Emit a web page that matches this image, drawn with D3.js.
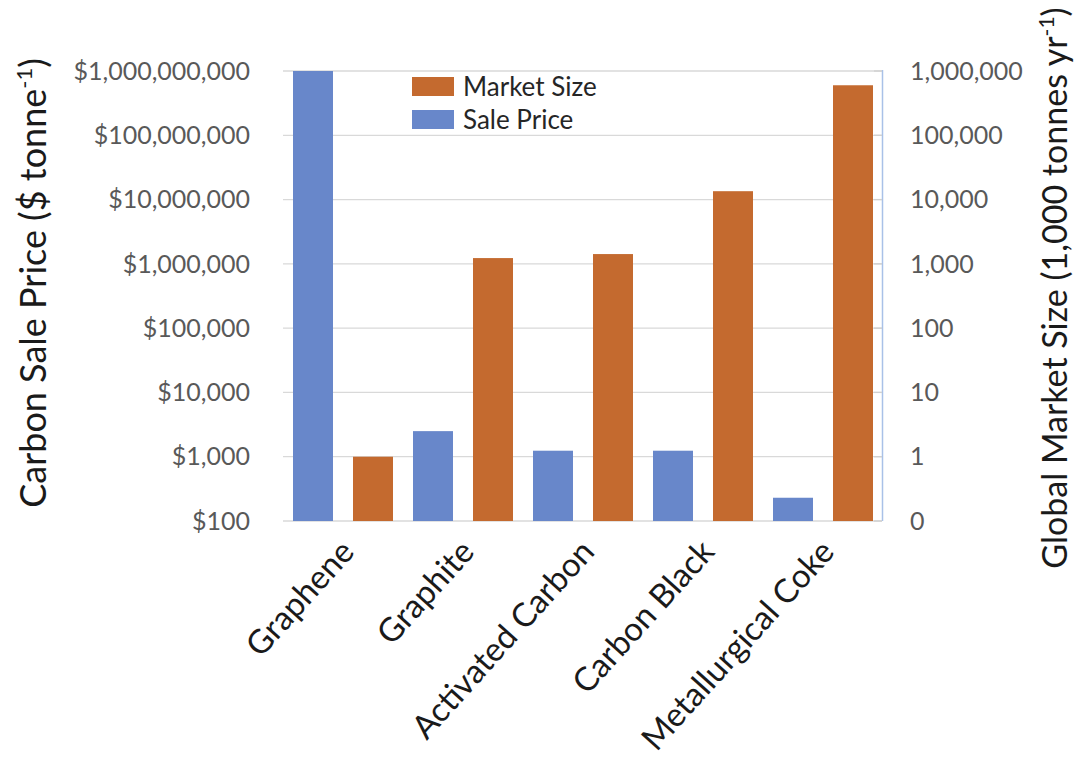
<!DOCTYPE html>
<html>
<head>
<meta charset="utf-8">
<script src="https://cdn.jsdelivr.net/npm/d3@7"></script>
<style>
  html, body { margin: 0; padding: 0; background: #fff; }
  svg { display: block; font-family: Lato, "Open Sans", sans-serif; }
</style>
</head>
<body>
<svg id="chart" width="1077" height="771"></svg>
<script>
// ---- Data ----
const categories = ["Graphene", "Graphite", "Activated Carbon", "Carbon Black", "Metallurgical Coke"];
const salePrice = [1000000000, 2500, 1240, 1240, 230];          // $ per tonne
const marketSize = [1, 1230, 1420, 13500, 600000];              // 1,000 tonnes per yr
const leftTicks = [100, 1000, 10000, 100000, 1000000, 10000000, 100000000, 1000000000];
const rightTicks = [0.1, 1, 10, 100, 1000, 10000, 100000, 1000000];
const seriesNames = ["Market Size", "Sale Price"];

// ---- Layout ----
const svg = d3.select("#chart");
const L = 283, R = 882, T = 71, B = 521;
const blue = "#6887CA", orange = "#C46A2F";

const x = d3.scaleBand().domain(categories).range([L, R + 1]).padding(0);
const sub = d3.scaleBand().domain(["price", "market"]).range([0, x.bandwidth()])
  .paddingInner(1/3).paddingOuter(1/6);
const yL = d3.scaleLog().domain([100, 1e9]).range([B, T]);
const yR = d3.scaleLog().domain([0.1, 1e6]).range([B, T]);

// gridlines
svg.append("g").selectAll("line").data(leftTicks).join("line")
  .attr("x1", L).attr("x2", R)
  .attr("y1", d => yL(d)).attr("y2", d => yL(d))
  .attr("stroke", "#d9d9d9").attr("stroke-width", 1.3);

// bars
const rows = categories.map((c, i) => ({ c, price: salePrice[i], market: marketSize[i] }));
svg.append("g").selectAll("rect").data(rows).join("rect")
  .attr("x", d => x(d.c) + sub("price"))
  .attr("width", sub.bandwidth())
  .attr("y", d => yL(d.price))
  .attr("height", d => B - yL(d.price))
  .attr("fill", blue);
svg.append("g").selectAll("rect").data(rows).join("rect")
  .attr("x", d => x(d.c) + sub("market"))
  .attr("width", sub.bandwidth())
  .attr("y", d => yR(d.market))
  .attr("height", d => B - yR(d.market))
  .attr("fill", orange);

// right axis line
svg.append("line").attr("x1", R + 0.5).attr("x2", R + 0.5).attr("y1", T - 1).attr("y2", B)
  .attr("stroke", "#a9c1e8").attr("stroke-width", 1.5);
svg.append("g").selectAll("line").data(rightTicks).join("line")
  .attr("x1", R - 8).attr("x2", R)
  .attr("y1", d => yR(d)).attr("y2", d => yR(d))
  .attr("stroke", "#d0d0d0").attr("stroke-width", 1.3);

// left tick labels
const fmtL = d => "$" + d3.format(",")(d);
svg.append("g").selectAll("text").data(leftTicks).join("text")
  .attr("x", 250).attr("y", d => yL(d)).attr("dy", "0.35em")
  .attr("text-anchor", "end").attr("font-size", 25).attr("fill", "#595959")
  .text(fmtL);

// right tick labels
const fmtR = d => d < 1 ? "0" : d3.format(",")(d);
svg.append("g").selectAll("text").data(rightTicks).join("text")
  .attr("x", 910).attr("y", d => yR(d)).attr("dy", "0.35em")
  .attr("text-anchor", "start").attr("font-size", 25).attr("fill", "#595959")
  .text(fmtR);

// category labels
svg.append("g").selectAll("text").data(categories).join("text")
  .attr("transform", d => `translate(${x(d) + x.bandwidth()/2 + 13},${553}) rotate(-48)`)
  .attr("text-anchor", "end").attr("font-size", 33).attr("fill", "#1a1a1a")
  .text(d => d);

// axis titles
const tl = svg.append("text")
  .attr("transform", "translate(46,283) rotate(-90)")
  .attr("text-anchor", "middle").attr("font-size", 36).attr("fill", "#1a1a1a");
tl.append("tspan").text("Carbon Sale Price ($ tonne");
tl.append("tspan").attr("font-size", 22).attr("dy", -14).text("-1");
tl.append("tspan").attr("dy", 14).text(")");

const tr = svg.append("text")
  .attr("transform", "translate(1067,288) rotate(-90)")
  .attr("text-anchor", "middle").attr("font-size", 34).attr("fill", "#1a1a1a");
tr.append("tspan").text("Global Market Size (1,000 tonnes yr");
tr.append("tspan").attr("font-size", 21).attr("dy", -13).text("-1");
tr.append("tspan").attr("dy", 13).text(")");

// legend
const legend = svg.append("g");
const legColors = [orange, blue];
seriesNames.forEach((n, i) => {
  const y0 = 77 + i * 33;
  legend.append("rect").attr("x", 412).attr("y", y0).attr("width", 42).attr("height", 19)
    .attr("fill", legColors[i]);
  legend.append("text").attr("x", 463).attr("y", y0 + 9.5).attr("dy", "0.35em")
    .attr("font-size", 26).attr("fill", "#262626").text(n);
});
</script>
</body>
</html>
